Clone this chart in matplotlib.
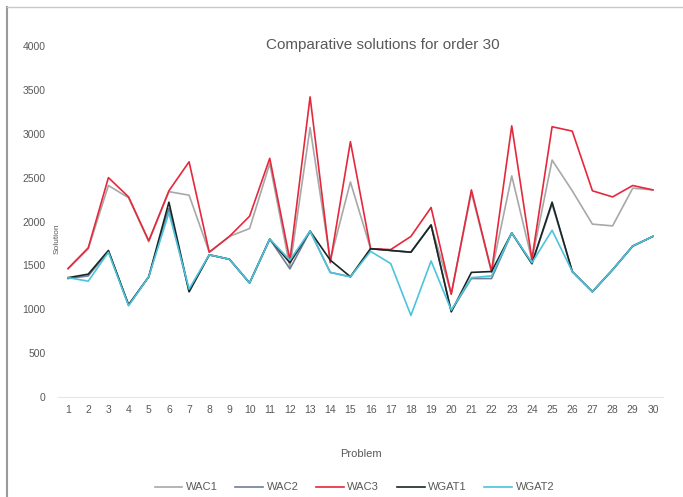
import numpy as np
import matplotlib
matplotlib.use('Agg')
import matplotlib.pyplot as plt
from matplotlib.lines import Line2D

plt.rcParams['font.family'] = ['Liberation Sans', 'DejaVu Sans']

problems = list(range(1, 31))

wac1 = [1460, 1690, 2410, 2270, 1770, 2340, 2300, 1650, 1830, 1920,
        2660, 1480, 3070, 1560, 2450, 1690, 1670, 1650, 1960, 1180,
        2330, 1420, 2520, 1560, 2700, 2350, 1970, 1950, 2380, 2360]
wac2 = [1350, 1380, 1660, 1050, 1370, 2150, 1200, 1620, 1570, 1300,
        1800, 1460, 1890, 1420, 1370, 1690, 1670, 1650, 1960, 980,
        1350, 1350, 1870, 1520, 2200, 1430, 1200, 1450, 1720, 1830]
wac3 = [1465, 1700, 2500, 2280, 1780, 2350, 2680, 1650, 1830, 2060,
        2720, 1560, 3420, 1530, 2910, 1690, 1680, 1830, 2160, 1170,
        2360, 1430, 3090, 1570, 3080, 3030, 2350, 2280, 2410, 2360]
wgat1 = [1360, 1400, 1670, 1050, 1370, 2220, 1200, 1620, 1570, 1300,
         1800, 1530, 1890, 1560, 1370, 1690, 1670, 1650, 1960, 970,
         1420, 1430, 1870, 1520, 2220, 1430, 1200, 1450, 1720, 1830]
wgat2 = [1360, 1320, 1650, 1040, 1370, 2100, 1230, 1620, 1570, 1300,
         1800, 1560, 1890, 1420, 1370, 1660, 1520, 930, 1550, 990,
         1360, 1380, 1870, 1530, 1900, 1430, 1200, 1450, 1720, 1830]

series = [('WAC1', wac1, '#a8a8a8'),
          ('WAC2', wac2, '#6f7f94'),
          ('WAC3', wac3, '#e5283c'),
          ('WGAT1', wgat1, '#1a2626'),
          ('WGAT2', wgat2, '#4cc4dc')]

text_col = '#595959'

fig = plt.figure(figsize=(6.83, 4.97), dpi=100)
ax = fig.add_axes([58 / 683, 1 - 397 / 497, 605 / 683, 351 / 497])

x = np.arange(len(problems))
for name, vals, col in series:
    ax.plot(x, vals, color=col, lw=1.2, label=name)

ax.set_xlim(-0.5, len(problems) - 0.5)
ax.set_ylim(0, 4000)
ax.set_yticks(np.arange(0, 4001, 500))
ax.set_xticks(x)
ax.set_xticklabels([str(p) for p in problems])
ax.tick_params(length=0, colors=text_col, labelsize=7.5)
ax.tick_params(axis='y', pad=9)
ax.tick_params(axis='x', pad=6)
for s in ['top', 'right', 'left']:
    ax.spines[s].set_visible(False)
ax.spines['bottom'].set_color('#e6e6e6')

fig.text(383 / 683, 1 - 45 / 497, 'Comparative solutions for order 30',
         fontsize=11, color=text_col, ha='center', va='center')
ax.set_xlabel('Problem', fontsize=8, color=text_col, labelpad=24)
ax.text(-0.001, 0.45, 'Solution', rotation=90, transform=ax.transAxes,
        fontsize=6, color=text_col, ha='center', va='center')

ax.legend(loc='upper center', bbox_to_anchor=(0.49, -0.215), ncol=5,
          frameon=False, fontsize=8, labelcolor=text_col,
          handlelength=2.5, handletextpad=0.3, columnspacing=1.6)

# outer chart frame
fig.add_artist(Line2D([7 / 683, 7 / 683], [0, 1 - 7 / 497],
                      color='#9a9a9a', lw=1.5))
fig.add_artist(Line2D([7 / 683, 1], [1 - 7 / 497, 1 - 7 / 497],
                      color='#c8c8c8', lw=1.0))

fig.savefig('out.png', dpi=100)
